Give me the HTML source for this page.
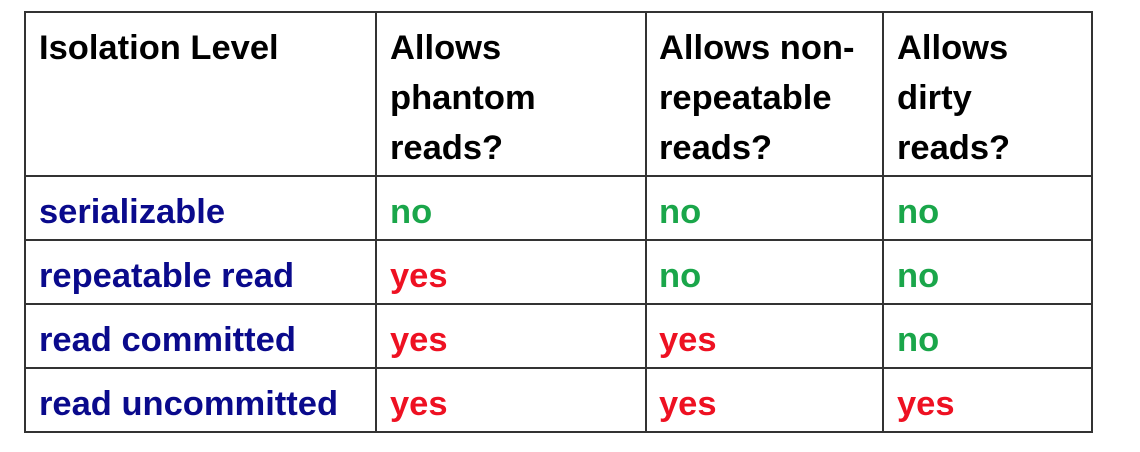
<!DOCTYPE html>
<html><head><style>
body{margin:0;width:1140px;height:452px;background:#fff;position:relative;overflow:hidden;font-family:"Liberation Sans",Arial,sans-serif;font-weight:bold;}
.h{position:absolute;height:2px;background:#333;}
.v{position:absolute;width:2px;background:#333;}
.t{position:absolute;font-size:34.5px;line-height:50px;white-space:nowrap;}
.k{color:#000}.b{color:#0a0a8c}.g{color:#1aa64a}.r{color:#ee1122}
</style></head><body>
<div class="h" style="left:25px;width:1068px;top:11px"></div>
<div class="h" style="left:25px;width:1068px;top:175px"></div>
<div class="h" style="left:25px;width:1068px;top:239px"></div>
<div class="h" style="left:25px;width:1068px;top:303px"></div>
<div class="h" style="left:25px;width:1068px;top:367px"></div>
<div class="h" style="left:25px;width:1068px;top:431px"></div>
<div class="v" style="left:24px;top:11px;height:422px"></div>
<div class="v" style="left:375px;top:11px;height:422px"></div>
<div class="v" style="left:645px;top:11px;height:422px"></div>
<div class="v" style="left:882px;top:11px;height:422px"></div>
<div class="v" style="left:1091px;top:11px;height:422px"></div>

<div class="t k" style="left:39px;top:23px">Isolation Level</div>
<div class="t k" style="left:390px;top:23px">Allows<br>phantom<br>reads?</div>
<div class="t k" style="left:659px;top:23px">Allows non-<br>repeatable<br>reads?</div>
<div class="t k" style="left:897px;top:23px">Allows<br>dirty<br>reads?</div>

<div class="t b" style="left:39px;top:187px">serializable</div>
<div class="t g" style="left:390px;top:187px">no</div>
<div class="t g" style="left:659px;top:187px">no</div>
<div class="t g" style="left:897px;top:187px">no</div>

<div class="t b" style="left:39px;top:251px">repeatable read</div>
<div class="t r" style="left:390px;top:251px">yes</div>
<div class="t g" style="left:659px;top:251px">no</div>
<div class="t g" style="left:897px;top:251px">no</div>

<div class="t b" style="left:39px;top:315px">read committed</div>
<div class="t r" style="left:390px;top:315px">yes</div>
<div class="t r" style="left:659px;top:315px">yes</div>
<div class="t g" style="left:897px;top:315px">no</div>

<div class="t b" style="left:39px;top:379px">read uncommitted</div>
<div class="t r" style="left:390px;top:379px">yes</div>
<div class="t r" style="left:659px;top:379px">yes</div>
<div class="t r" style="left:897px;top:379px">yes</div>
</body></html>
